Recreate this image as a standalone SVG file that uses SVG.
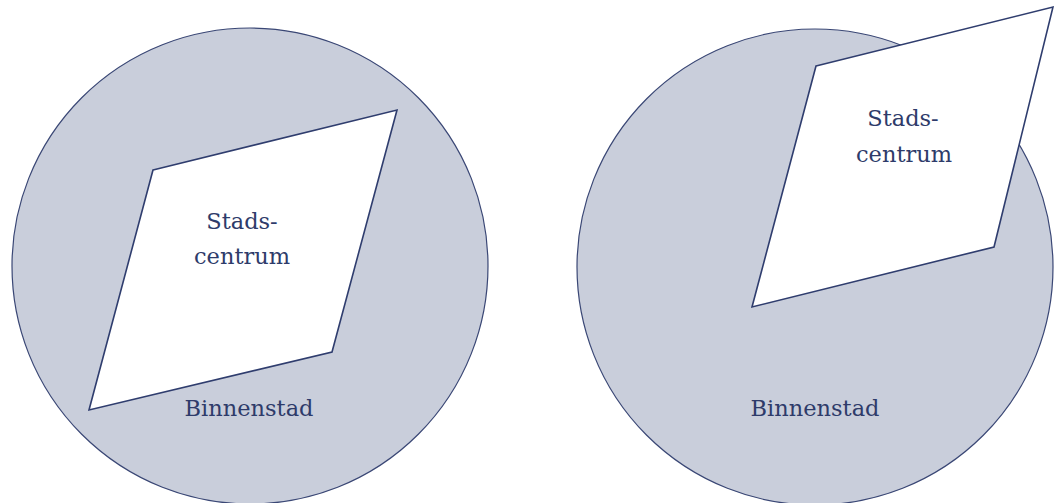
<svg xmlns="http://www.w3.org/2000/svg" width="1054" height="503" viewBox="0 0 1054 503">
<style>
.circ{fill:#c9cedb;stroke:#3a4775;stroke-width:1.2}
.par{fill:#ffffff;stroke:#2f3d6e;stroke-width:1.6;stroke-linejoin:miter}
.t{font-family:"DejaVu Serif","Liberation Serif",serif;font-size:22.5px;fill:#2e3b6a;text-anchor:middle}
</style>
<rect width="1054" height="503" fill="#ffffff"/>
<g id="left-binnenstad">
<circle class="circ" cx="250" cy="266" r="238"/>
<text class="t" x="249" y="416">Binnenstad</text>
</g>
<g id="left-stadscentrum">
<polygon class="par" points="153,170 397,110 332,352 89,410"/>
<text class="t" x="242" y="229">Stads-</text>
<text class="t" x="242" y="264">centrum</text>
</g>
<g id="right-binnenstad">
<circle class="circ" cx="815" cy="267" r="238"/>
<text class="t" x="815" y="416">Binnenstad</text>
</g>
<g id="right-stadscentrum">
<polygon class="par" points="816,66 1053,7 994,247 752,307"/>
<text class="t" x="903" y="126">Stads-</text>
<text class="t" x="904" y="162">centrum</text>
</g>
<g id="connectors"></g>
</svg>
